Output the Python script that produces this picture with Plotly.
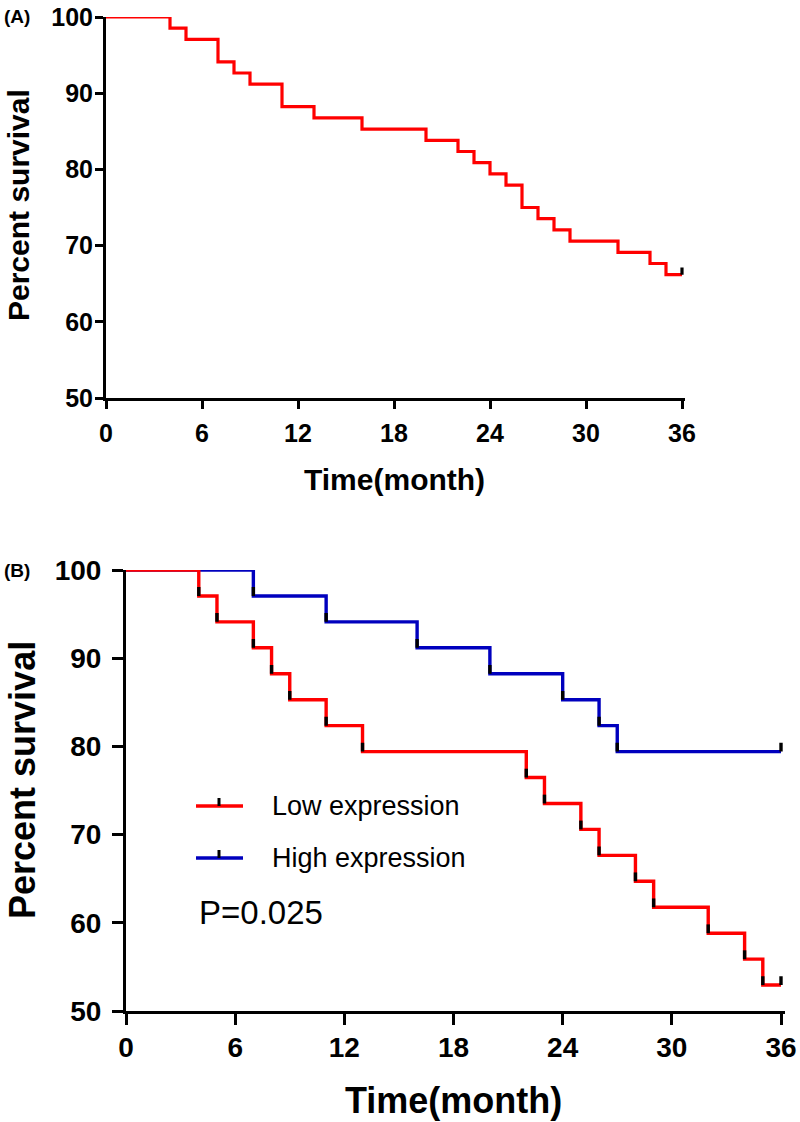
import plotly.graph_objects as go

# Kaplan-Meier curves (time in months, percent survival)
time_all = [0, 4, 5, 7, 8, 9, 11, 13, 16, 20, 22, 23, 24, 25, 26, 27, 28, 29, 32, 34, 35, 36]
surv_all = [100, 98.53, 97.06, 94.12, 92.65, 91.18, 88.24, 86.76, 85.29, 83.82, 82.35,
            80.88, 79.41, 77.94, 75.00, 73.53, 72.06, 70.59, 69.12, 67.65, 66.18, 66.18]

time_low = [0, 4, 5, 7, 8, 9, 11, 13, 22, 23, 25, 26, 28, 29, 32, 34, 35, 36]
surv_low = [100, 97.06, 94.12, 91.18, 88.24, 85.29, 82.35, 79.41, 76.47, 73.53, 70.59,
            67.65, 64.71, 61.76, 58.82, 55.88, 52.94, 52.94]

time_high = [0, 7, 11, 16, 20, 24, 26, 27, 36]
surv_high = [100, 97.06, 94.12, 91.18, 88.24, 85.29, 82.35, 79.41, 79.41]

x_ticks = [0, 6, 12, 18, 24, 30, 36]
y_ticks = [50, 60, 70, 80, 90, 100]
legend_names = ["Low expression", "High expression"]
p_text = "P=0.025"

RED = "#FF0000"
BLUE = "#0000BE"
W, H = 800, 1122
FONT = "Liberation Sans, Arial, sans-serif"


def px(x):
    return x / W


def py(y):
    return 1 - y / H


def tick_marks(times, survs, height, every_step=True):
    xs, ys = [], []
    pts = list(zip(times, survs))
    if every_step:
        pts = pts[1:]
    else:
        pts = pts[-1:]
    for t, s in pts:
        xs += [t, t, None]
        ys += [s, s + height, None]
    return xs, ys


fig = go.Figure()

# panel A
fig.add_trace(go.Scatter(x=time_all, y=surv_all, mode="lines", line_shape="hv",
                         line=dict(color=RED, width=3.2), xaxis="x", yaxis="y",
                         showlegend=False))
tx, ty = tick_marks(time_all, surv_all, 0.95, every_step=False)
fig.add_trace(go.Scatter(x=tx, y=ty, mode="lines", line=dict(color="black", width=3.2),
                         xaxis="x", yaxis="y", showlegend=False))

# panel B
for t, s, c in [(time_high, surv_high, BLUE), (time_low, surv_low, RED)]:
    fig.add_trace(go.Scatter(x=t, y=s, mode="lines", line_shape="hv",
                             line=dict(color=c, width=3.4), xaxis="x2", yaxis="y2",
                             showlegend=False))
    tx, ty = tick_marks(t, s, 1.0)
    fig.add_trace(go.Scatter(x=tx, y=ty, mode="lines", line=dict(color="black", width=3.4),
                             xaxis="x2", yaxis="y2", showlegend=False))

# axis geometry (pixels in the reference)
A = dict(x0=106, x1=682, y0=17, y1=398)
B = dict(x0=126, x1=781, y0=570, y1=1011)
xmax = 36.2


def axis_common(size, ticklen):
    return dict(showline=True, linecolor="black", linewidth=3, ticks="outside",
                ticklen=ticklen, tickwidth=3, tickcolor="black", showgrid=False,
                zeroline=False, automargin=False,
                tickfont=dict(family=FONT, size=size, color="black", weight="bold"))


def xdom(p):
    unit = (p["x1"] - p["x0"]) / 36
    return [px(p["x0"]), px(p["x0"] + unit * xmax)]


fig.update_layout(
    width=W, height=H, margin=dict(l=0, r=0, t=0, b=0),
    plot_bgcolor="white", paper_bgcolor="white",
    xaxis=dict(domain=xdom(A), range=[0, xmax], tickvals=x_ticks, anchor="y",
               ticklabelstandoff=3, **axis_common(25, 8)),
    yaxis=dict(domain=[py(A["y1"]), py(A["y0"])], range=[50, 100], tickvals=y_ticks,
               anchor="x", ticklabelstandoff=-3, **axis_common(25, 8)),
    xaxis2=dict(domain=xdom(B), range=[0, xmax], tickvals=x_ticks, anchor="y2",
                ticklabelstandoff=-2, **axis_common(28, 11)),
    yaxis2=dict(domain=[py(B["y1"]), py(B["y0"])], range=[50, 100], tickvals=y_ticks,
                anchor="x2", ticklabelstandoff=5, **axis_common(28, 11)),
)

bold = lambda s: dict(family=FONT, size=s, color="black", weight="bold")
plain = lambda s: dict(family=FONT, size=s, color="black")

ann = [
    dict(text="(A)", x=px(2), y=py(17), xanchor="left", yanchor="middle", font=bold(19)),
    dict(text="(B)", x=px(2), y=py(570), xanchor="left", yanchor="middle", font=bold(19)),
    dict(text="Time(month)", x=px((A["x0"] + A["x1"]) / 2), y=py(480), xanchor="center",
         yanchor="middle", font=bold(30)),
    dict(text="Percent survival", x=px(18), y=py(205), textangle=-90,
         xanchor="center", yanchor="middle", font=bold(30)),
    dict(text="Time(month)", x=px((B["x0"] + B["x1"]) / 2), y=py(1100), xanchor="center",
         yanchor="middle", font=bold(36)),
    dict(text="Percent survival", x=px(22), y=py(780), textangle=-90,
         xanchor="center", yanchor="middle", font=bold(36)),
    dict(text=p_text, x=px(197), y=py(912), xanchor="left", yanchor="middle", font=plain(33)),
]
shapes = []
for name, color, ly in [(legend_names[0], RED, 806), (legend_names[1], BLUE, 858)]:
    shapes.append(dict(type="line", xref="paper", yref="paper", x0=px(196), x1=px(243),
                       y0=py(ly), y1=py(ly), line=dict(color=color, width=3.4)))
    shapes.append(dict(type="line", xref="paper", yref="paper", x0=px(219), x1=px(219),
                       y0=py(ly), y1=py(ly - 8), line=dict(color="black", width=3)))
    ann.append(dict(text=name, x=px(270), y=py(ly), xanchor="left", yanchor="middle",
                    font=plain(27)))

for a in ann:
    a.update(xref="paper", yref="paper", showarrow=False)
fig.update_layout(annotations=ann, shapes=shapes)

# drop the page's default body margin so the figure sits at the window corner
fig.write_html("out.html", config={"displayModeBar": False},
               post_script="document.body.style.margin = '0';")
